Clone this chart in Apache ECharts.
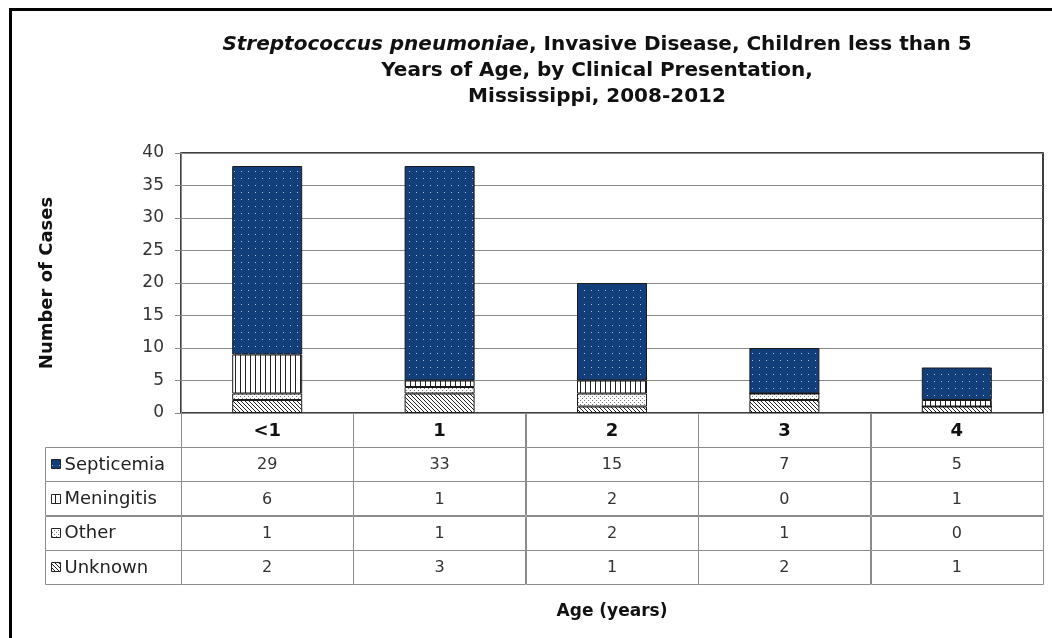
<!DOCTYPE html>
<html>
<head>
<meta charset="utf-8">
<script src="https://cdn.jsdelivr.net/npm/echarts@6/dist/echarts.min.js"></script>
<style>
html,body{margin:0;padding:0;background:#fff;}
#chart{width:1052px;height:638px;}
</style>
</head>
<body>
<div id="chart"></div>
<script>
// ---- data ----
const ages = ['<1', '1', '2', '3', '4'];
const septicemia = [29, 33, 15, 7, 5];
const meningitis = [6, 1, 2, 0, 1];
const other = [1, 1, 2, 1, 0];
const unknown = [2, 3, 1, 2, 1];
const rowNames = ['Septicemia', 'Meningitis', 'Other', 'Unknown'];
const yMin = 0, yMax = 40, yStep = 5;

// ---- patterns ----
function makePattern(w, h, draw) {
  const c = document.createElement('canvas');
  c.width = w; c.height = h;
  const ctx = c.getContext('2d');
  draw(ctx);
  return c;
}
const septPat = makePattern(7, 7, ctx => {
  ctx.fillStyle = '#123e7a'; ctx.fillRect(0, 0, 7, 7);
  ctx.fillStyle = '#a9bfdc'; ctx.fillRect(3, 3, 1, 1);
});
const meningPat = makePattern(5, 4, ctx => {
  ctx.fillStyle = '#ffffff'; ctx.fillRect(0, 0, 5, 4);
  ctx.fillStyle = '#222222'; ctx.fillRect(0, 0, 1, 4);
});
const otherPat = makePattern(4, 4, ctx => {
  ctx.fillStyle = '#ffffff'; ctx.fillRect(0, 0, 4, 4);
  ctx.fillStyle = '#777777'; ctx.fillRect(0, 0, 1, 1); ctx.fillRect(2, 2, 1, 1);
});
const unkPat = makePattern(4, 4, ctx => {
  ctx.fillStyle = '#ffffff'; ctx.fillRect(0, 0, 4, 4);
  ctx.fillStyle = '#222222';
  for (let i = 0; i < 4; i++) ctx.fillRect(i, i, 1, 1);
});
const pat = c => ({ image: c, repeat: 'repeat' });
const rowData = [septicemia, meningitis, other, unknown];
const rowPats = [septPat, meningPat, otherPat, unkPat];

const FONT = 'DejaVu Sans';

// table cells (header row + 4 data rows)
const cellData = [];
const cellText = [];
const cellBold = [];
ages.forEach((a, c) => { cellData.push([c, 0]); cellText.push(a); cellBold.push(true); });
rowData.forEach((arr, r) => arr.forEach((v, c) => {
  cellData.push([c, r + 1]); cellText.push(String(v)); cellBold.push(false);
}));
const labelData = rowNames.map((n, i) => [0, i]);

const chart = echarts.init(document.getElementById('chart'), null, { renderer: 'canvas' });

function barSeries(name, data, p) {
  return {
    name, type: 'bar', stack: 'total', data,
    xAxisIndex: 0, yAxisIndex: 0,
    barWidth: 70,
    itemStyle: { color: pat(p), borderColor: '#1a1a1a', borderWidth: 1 }
  };
}

chart.setOption({
  backgroundColor: '#ffffff',
  animation: false,
  title: {
    left: 597, top: 32, textAlign: 'center', padding: 0,
    text: '{i|Streptococcus pneumoniae}{n|, Invasive Disease, Children less than 5}\n{n|Years of Age, by Clinical Presentation,}\n{n|Mississippi, 2008-2012}',
    textStyle: {
      rich: {
        i: { fontFamily: FONT, fontSize: 20, fontWeight: 'bold', fontStyle: 'italic', color: '#111', lineHeight: 26 },
        n: { fontFamily: FONT, fontSize: 20, fontWeight: 'bold', color: '#111', lineHeight: 26 }
      }
    }
  },
  grid: [
    { left: 181, right: 9, top: 153, height: 260, show: true, borderColor: '#000', borderWidth: 1.5, backgroundColor: 'transparent' },
    { left: 181, right: 9, top: 413, height: 171 },
    { left: 45, width: 136, top: 447.2, height: 136.8 }
  ],
  xAxis: [
    { gridIndex: 0, type: 'category', data: ages, axisLine: { show: true, lineStyle: { color: '#888' } }, axisTick: { show: false }, axisLabel: { show: false } },
    { gridIndex: 1, type: 'category', data: ages, axisLine: { show: false }, axisTick: { show: false }, axisLabel: { show: false },
      name: 'Age (years)', nameLocation: 'middle', nameGap: 28,
      nameTextStyle: { fontFamily: FONT, fontSize: 17, fontWeight: 'bold', color: '#111', verticalAlign: 'middle' } },
    { gridIndex: 2, type: 'category', data: ['label'], show: false }
  ],
  yAxis: [
    { gridIndex: 0, type: 'value', min: yMin, max: yMax, interval: yStep,
      axisLine: { show: true, lineStyle: { color: '#888' } },
      axisTick: { show: true, length: 6, lineStyle: { color: '#888' } },
      axisLabel: { fontFamily: FONT, fontSize: 17, color: '#333', margin: 17 },
      splitLine: { lineStyle: { color: '#8a8a8a', width: 1 } },
      name: 'Number of Cases', nameLocation: 'middle', nameGap: 134,
      nameTextStyle: { fontFamily: FONT, fontSize: 18, fontWeight: 'bold', color: '#111', verticalAlign: 'middle' } },
    { gridIndex: 1, type: 'category', data: ['hdr'].concat(rowNames), inverse: true, show: false },
    { gridIndex: 2, type: 'category', data: rowNames, inverse: true, show: false }
  ],
  graphic: [
    { type: 'rect', shape: { x: 10.5, y: 9.5, width: 1100, height: 700 }, style: { fill: 'none', stroke: '#000', lineWidth: 3 }, z: 100 }
  ],
  series: [
    barSeries('Unknown', unknown, unkPat),
    barSeries('Other', other, otherPat),
    barSeries('Meningitis', meningitis, meningPat),
    barSeries('Septicemia', septicemia, septPat),
    {
      type: 'custom', xAxisIndex: 1, yAxisIndex: 1, data: cellData, z: 5,
      renderItem: function (params, api) {
        const c = api.value(0), r = api.value(1);
        const p = api.coord([c, r]);
        const s = api.size([1, 1]);
        const i = params.dataIndex;
        return {
          type: 'group',
          children: [
            { type: 'rect', shape: { x: Math.round(p[0] - s[0] / 2) + 0.5, y: Math.round(p[1] - s[1] / 2) + 0.5, width: Math.round(s[0]), height: Math.round(s[1]) },
              style: { fill: 'none', stroke: '#8c8c8c', lineWidth: 1 } },
            { type: 'text', x: p[0], y: p[1] + 1,
              style: { text: cellText[i], align: 'center', verticalAlign: 'middle',
                fontFamily: FONT, fontSize: cellBold[i] ? 18 : 16, fontWeight: cellBold[i] ? 'bold' : 'normal',
                fill: cellBold[i] ? '#111' : '#333' } }
          ]
        };
      }
    },
    {
      type: 'custom', xAxisIndex: 2, yAxisIndex: 2, data: labelData, z: 5,
      renderItem: function (params, api) {
        const r = api.value(1);
        const p = api.coord([0, r]);
        const s = api.size([1, 1]);
        const x0 = Math.round(p[0] - s[0] / 2) + 0.5;
        const y0 = Math.round(p[1] - s[1] / 2) + 0.5;
        return {
          type: 'group',
          children: [
            { type: 'rect', shape: { x: x0, y: y0, width: Math.round(s[0]), height: Math.round(s[1]) },
              style: { fill: 'none', stroke: '#8c8c8c', lineWidth: 1 } },
            { type: 'rect', shape: { x: x0 + 6, y: Math.round(p[1]) - 4.5, width: 9, height: 9 },
              style: { fill: pat(rowPats[r]), stroke: '#222', lineWidth: 1 } },
            { type: 'text', x: x0 + 19, y: p[1] + 1,
              style: { text: rowNames[r], align: 'left', verticalAlign: 'middle',
                fontFamily: FONT, fontSize: 18, fill: '#222' } }
          ]
        };
      }
    }
  ]
});
</script>
</body>
</html>
